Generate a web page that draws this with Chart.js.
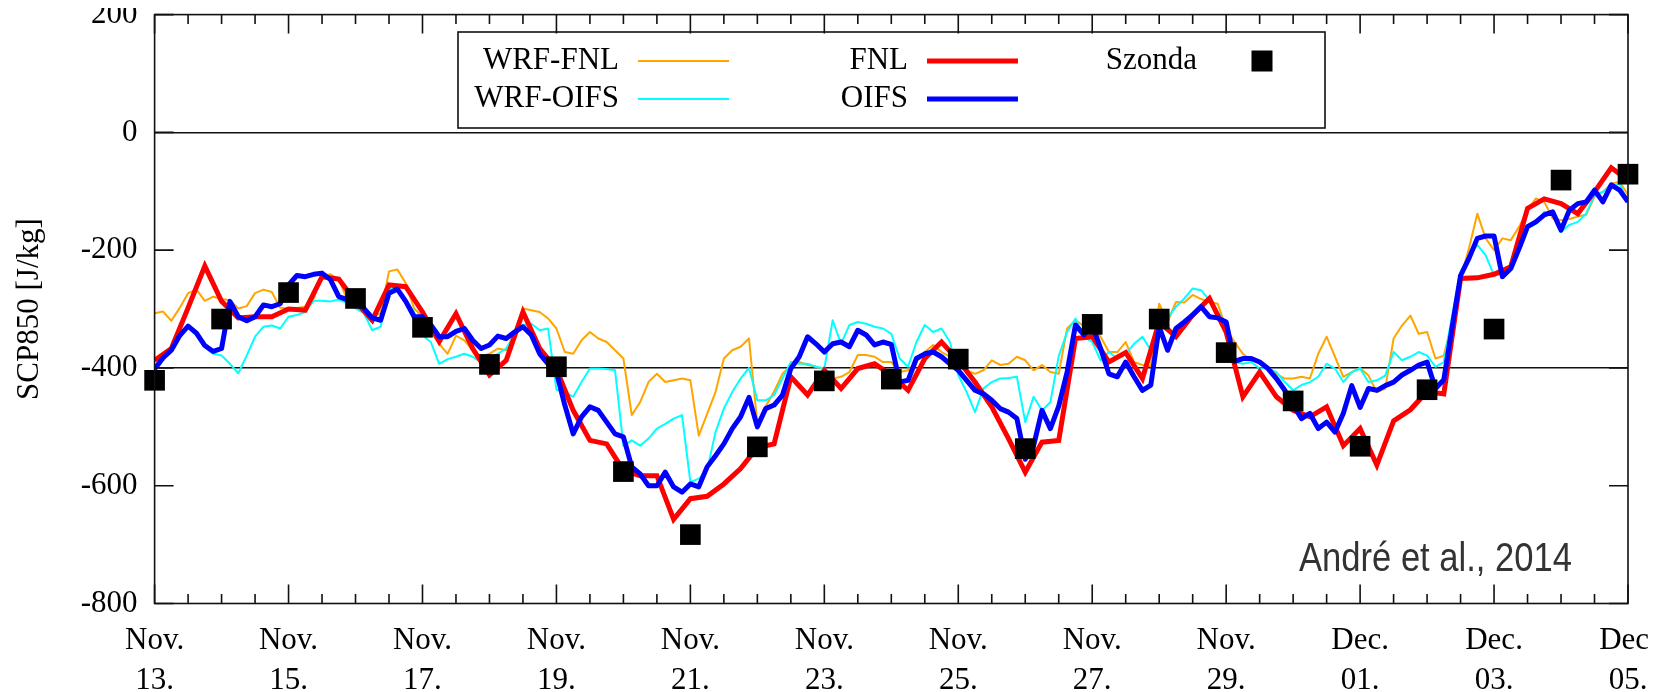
<!DOCTYPE html>
<html>
<head>
<meta charset="utf-8">
<script src="https://cdn.jsdelivr.net/npm/chart.js@4.4.1/dist/chart.umd.min.js"></script>
<style>
html,body{margin:0;padding:0;background:#fff;}
#wrap{position:relative;width:1660px;height:692px;overflow:hidden;background:#fff;}
#c{position:absolute;left:0;top:0;}
#crop{position:absolute;left:0;top:0;width:1660px;height:8px;background:#fff;}
</style>
</head>
<body>
<div id="wrap"><canvas id="c" width="1648" height="692"></canvas><div id="crop"></div></div>
<script>
// ---- data (x = days since Nov. 13, 00 UTC) ----
const xTickLabels = [['Nov.','13.'],['Nov.','15.'],['Nov.','17.'],['Nov.','19.'],['Nov.','21.'],['Nov.','23.'],
                     ['Nov.','25.'],['Nov.','27.'],['Nov.','29.'],['Dec.','01.'],['Dec.','03.'],['Dec.','05.']];
const yTickLabels = ['-800','-600','-400','-200','0','200'];
const seriesNames = ['WRF-FNL','WRF-OIFS','FNL','OIFS','Szonda'];
const refLines = [0, -400];
const annotation = 'André et al., 2014';

// WRF-FNL, 3-hourly
const wrfFnl3h = [-307,-304,-320,-298,-273,-267,-286,-279,-283,
 -285,-299,-295,-273,-267,-271,-298,-299,
 -298,-296,-282,-243,-241,-250,-283,-287,
 -296,-313,-307,-236,-233,-256,-299,-313,
 -339,-359,-376,-345,-353,-370,-381,-376,
 -367,-370,-339,-299,-302,-305,-316,-333,
 -373,-376,-353,-339,-350,-356,-370,-384,
 -480,-458,-424,-410,-424,-421,-418,-421,
 -515,-478,-441,-384,-370,-364,-350,-495,
 -465,-440,-410,-395,-390,-395,-398,-402,
 -418,-415,-407,-378,-378,-381,-390,-390,
 -407,-404,-390,-373,-361,-373,-381,-390,
 -404,-410,-404,-387,-395,-393,-381,-387,
 -404,-395,-407,-410,-333,-319,-329,-330,
 -347,-373,-373,-356,-390,-395,-397,-291,
 -322,-288,-289,-276,-283,-288,-291,-333,
 -356,-376,-387,-390,-401,-410,-418,-418,
 -415,-418,-376,-347,-381,-415,-407,-400,
 -413,-441,-435,-350,-328,-311,-342,-339,
 -384,-379,-322,-248,-197,-138,-180,-200,
 -180,-183,-160,-132,-112,-118,-146,-149,
 -147,-143,-140,-109,-101,-87,-84,-106];

// WRF-OIFS, 3-hourly
const wrfOifs3h = [-402,-385,-367,-347,-330,-345,-365,-376,-379,
 -393,-409,-379,-347,-330,-328,-333,-313,
 -310,-305,-286,-286,-287,-284,-290,-299,
 -307,-336,-330,-266,-266,-284,-305,-345,
 -356,-393,-385,-381,-376,-381,-390,-384,
 -376,-367,-344,-327,-325,-336,-333,-437,
 -441,-449,-424,-401,-401,-402,-404,-532,
 -523,-532,-520,-503,-495,-486,-480,-594,
 -588,-574,-509,-469,-441,-418,-400,-455,
 -455,-446,-418,-390,-393,-393,-398,-401,
 -319,-359,-327,-322,-325,-330,-333,-342,
 -384,-398,-356,-327,-339,-333,-356,-412,
 -441,-475,-435,-424,-418,-417,-415,-492,
 -449,-472,-458,-380,-339,-316,-347,-356,
 -387,-373,-384,-376,-359,-347,-370,-327,
 -316,-296,-282,-265,-268,-285,-305,-325,
 -390,-393,-390,-401,-400,-407,-424,-438,
 -429,-424,-415,-393,-401,-424,-407,-401,
 -424,-421,-413,-373,-387,-381,-373,-379,
 -398,-390,-311,-237,-211,-191,-209,-243,
 -240,-234,-191,-163,-155,-135,-138,-169,
 -157,-152,-138,-106,-101,-92,-87,-118];

// FNL, 6-hourly
const fnl6h = [-387,-367,-298,-227,-287,
 -315,-313,-313,-300,
 -302,-245,-249,-287,
 -319,-259,-262,-305,
 -355,-308,-367,-412,
 -387,-305,-367,-402,
 -472,-523,-529,-574,
 -583,-583,-657,-622,
 -618,-597,-571,-535,
 -529,-415,-446,-404,
 -435,-401,-393,-412,
 -438,-384,-356,-387,
 -424,-466,-520,-577,
 -526,-523,-350,-347,
 -390,-374,-418,-322,
 -347,-310,-282,-339,
 -449,-407,-449,-472,
 -483,-466,-532,-503,
 -565,-490,-471,-440,
 -444,-248,-247,-241,
 -228,-129,-113,-121,
 -138,-101,-60,-81];

// OIFS, 3-hourly
const oifs3h = [-402,-383,-370,-345,-329,-341,-362,-372,-367,
 -287,-313,-320,-313,-293,-296,-291,-259,
 -243,-245,-241,-239,-250,-279,-284,-287,
 -299,-315,-319,-273,-266,-287,-313,-313,
 -327,-347,-347,-338,-333,-353,-367,-361,
 -346,-350,-339,-330,-344,-376,-393,-407,
 -463,-512,-483,-466,-472,-492,-512,-517,
 -568,-580,-600,-600,-577,-602,-611,-597,
 -602,-568,-549,-529,-503,-483,-450,-500,
 -469,-463,-446,-401,-381,-347,-359,-373,
 -359,-356,-364,-336,-344,-361,-356,-360,
 -424,-421,-384,-376,-373,-381,-393,-404,
 -421,-438,-444,-455,-469,-475,-486,-555,
 -532,-472,-503,-465,-407,-327,-344,-327,
 -367,-410,-415,-390,-415,-438,-429,-330,
 -370,-333,-322,-310,-296,-313,-315,-322,
 -389,-384,-384,-390,-401,-418,-438,-463,
 -486,-477,-503,-492,-509,-477,-430,-467,
 -435,-438,-430,-424,-412,-404,-395,-390,
 -435,-420,-330,-243,-214,-180,-176,-176,
 -245,-231,-197,-160,-152,-140,-135,-166,
 -132,-121,-118,-98,-118,-89,-98,-118];

// Szonda (radiosonde), daily 00 UTC
const szonda = [-421,-317,-272,-282,-331,-394,-398,-576,-683,-534,-422,-419,-385,-537,-326,-317,-374,-456,-533,-437,-334,-81,-71];

[[wrfFnl3h,177],[wrfOifs3h,177],[oifs3h,177],[fnl6h,89],[szonda,23]].forEach(([a,n],i)=>{
  if (a.length !== n) throw new Error('series '+i+' has '+a.length+' values, expected '+n);
});

const toPts = (vals, stepDays) => vals.map((v, i) => ({x: i * stepDays, y: v}));

const SERIF = '"Liberation Serif", "Times New Roman", serif';

const decor = {
  id: 'decor',
  afterDraw(chart) {
    const {ctx, chartArea: a, scales: {x, y}} = chart;
    ctx.save();
    ctx.strokeStyle = '#111';
    ctx.lineWidth = 1.6;
    ctx.strokeRect(a.left, a.top, a.right - a.left, a.bottom - a.top);
    ctx.beginPath();
    for (let k = 0; k <= 44; k++) {
      const px = x.getPixelForValue(k * 0.5);
      const len = (k % 4 === 0) ? 19 : 9.5;
      ctx.moveTo(px, a.bottom); ctx.lineTo(px, a.bottom - len);
      ctx.moveTo(px, a.top); ctx.lineTo(px, a.top + len);
    }
    for (let v = -800; v <= 200; v += 200) {
      const py = y.getPixelForValue(v);
      ctx.moveTo(a.left, py); ctx.lineTo(a.left + 19, py);
      ctx.moveTo(a.right, py); ctx.lineTo(a.right - 19, py);
    }
    ctx.stroke();

    // key box
    const ds = chart.data.datasets;
    ctx.lineWidth = 1.6;
    ctx.strokeRect(458, 32, 867, 96);
    ctx.font = '31px ' + SERIF;
    ctx.fillStyle = '#000';
    ctx.textBaseline = 'middle';
    ctx.textAlign = 'right';
    const rows = [
      {i: 0, tx: 619, ty: 61, x0: 638, x1: 729},
      {i: 1, tx: 619, ty: 99, x0: 638, x1: 729},
      {i: 2, tx: 908, ty: 61, x0: 927, x1: 1018},
      {i: 3, tx: 908, ty: 99, x0: 927, x1: 1018}
    ];
    rows.forEach(r => {
      const d = ds[r.i];
      ctx.fillText(d.label, r.tx, r.ty);
      ctx.beginPath();
      ctx.strokeStyle = d.borderColor;
      ctx.lineWidth = d.borderWidth;
      ctx.moveTo(r.x0, r.ty); ctx.lineTo(r.x1, r.ty);
      ctx.stroke();
    });
    ctx.fillText(ds[4].label, 1197, 61);
    ctx.fillStyle = ds[4].backgroundColor;
    ctx.fillRect(1262 - 10.5, 61 - 10.5, 21, 21);

    // citation
    ctx.font = '41px "Liberation Sans", Arial, sans-serif';
    ctx.fillStyle = '#333';
    ctx.textAlign = 'left';
    ctx.textBaseline = 'alphabetic';
    ctx.fillText(annotation, 1299, 571, 273);
    ctx.restore();
  }
};

new Chart(document.getElementById('c'), {
  type: 'line',
  data: {
    datasets: [
      {label: seriesNames[0], data: toPts(wrfFnl3h, 0.125), borderColor: '#FFA500', borderWidth: 2, pointRadius: 0, order: 4, borderJoinStyle: 'round'},
      {label: seriesNames[1], data: toPts(wrfOifs3h, 0.125), borderColor: '#00FFFF', borderWidth: 2, pointRadius: 0, order: 3, borderJoinStyle: 'round'},
      {label: seriesNames[2], data: toPts(fnl6h, 0.25), borderColor: '#FF0000', borderWidth: 5, pointRadius: 0, order: 2},
      {label: seriesNames[3], data: toPts(oifs3h, 0.125), borderColor: '#0000FF', borderWidth: 5, pointRadius: 0, order: 1, borderJoinStyle: 'round'},
      {label: seriesNames[4], data: toPts(szonda, 1), showLine: false, pointStyle: 'rect', pointRadius: 14.6,
       backgroundColor: '#000000', borderColor: '#000000', borderWidth: 0, order: 0, clip: false}
    ]
  },
  options: {
    responsive: false,
    animation: false,
    devicePixelRatio: 1,
    layout: {padding: {left: 0, right: 20, top: 14, bottom: 0}},
    plugins: {legend: {display: false}, tooltip: {enabled: false}},
    elements: {line: {tension: 0}},
    scales: {
      x: {
        type: 'linear', min: 0, max: 22,
        afterFit(s) { s.height = 88.5; s.paddingLeft = 0; s.paddingRight = 0; },
        grid: {display: false, drawTicks: false},
        border: {display: false},
        ticks: {
          stepSize: 2, autoSkip: false, maxRotation: 0, minRotation: 0, padding: 18, color: '#000',
          font: {family: SERIF, size: 31, lineHeight: 1.28},
          callback: (v, i) => xTickLabels[i]
        }
      },
      y: {
        min: -800, max: 200,
        afterFit(s) { s.width = 154.6; s.paddingTop = 0; s.paddingBottom = 0; },
        grid: {drawTicks: false, lineWidth: 1.5,
               color: c => (c.tick && refLines.includes(c.tick.value)) ? '#111' : 'rgba(0,0,0,0)'},
        border: {display: false},
        ticks: {
          stepSize: 200, padding: 17, color: '#000',
          font: {family: SERIF, size: 31},
          callback: (v, i) => yTickLabels[i]
        },
        title: {display: true, text: 'SCP850 [J/kg]', color: '#000',
                font: {family: SERIF, size: 31}, padding: {top: 11, bottom: 0}}
      }
    }
  },
  plugins: [decor]
});
</script>
</body>
</html>
